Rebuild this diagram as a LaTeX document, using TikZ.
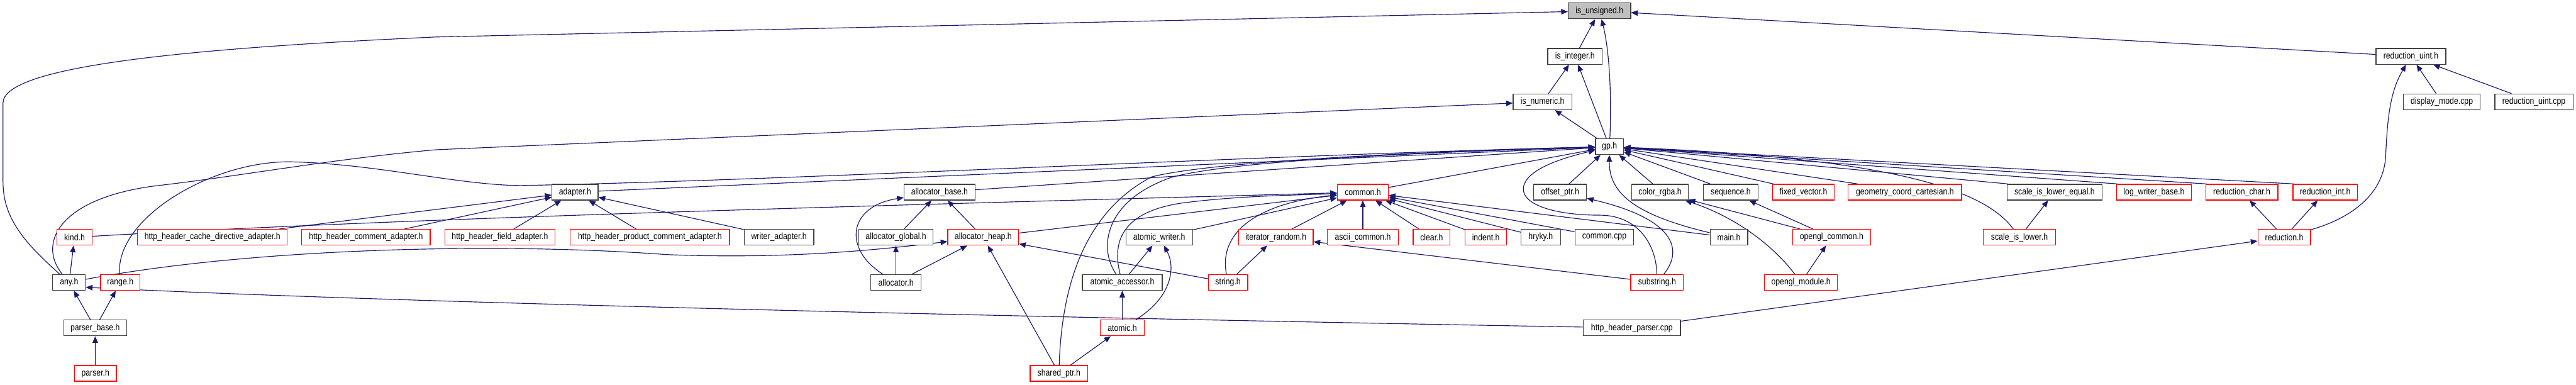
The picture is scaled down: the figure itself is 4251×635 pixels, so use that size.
\documentclass[tikz,border=0pt]{standalone}
\usepackage{fontspec}
\setmainfont{Liberation Sans}[FakeStretch=0.85]
\usetikzlibrary{arrows.meta,calc}
\definecolor{edgeblue}{RGB}{25,25,112}
\definecolor{boxgray}{RGB}{64,64,64}
\definecolor{boxred}{RGB}{255,0,0}
\definecolor{rootfill}{RGB}{191,191,191}
\pgfdeclarelayer{back}
\pgfdeclarelayer{edges}
\pgfsetlayers{back,edges,main}
\tikzset{
  fbox/.style={draw, rectangle, fill=white, text=black, line width=1.3pt, minimum height=26pt, inner sep=0pt, font=\fontsize{15pt}{18pt}\selectfont},
  blk/.style={fbox, draw=boxgray},
  rd/.style={fbox, draw=boxred},
  root/.style={fbox, draw=boxgray, fill=rootfill},
  edg/.style={draw=edgeblue, line width=1.2pt, -{Triangle[length=11pt,width=9pt]}}
}
\begin{document}
\begin{tikzpicture}[x=1pt,y=-1pt]
\begin{pgfonlayer}{back}
\fill[white] (0,0) rectangle (4251,635);
\end{pgfonlayer}
\useasboundingbox (0,0) rectangle (4251,635);
% row 0
\node[root, minimum width=103pt] (isuns) at (2639.5,18) {is\_unsigned.h};
% row 1
\node[blk, minimum width=90pt] (isint) at (2599,93) {is\_integer.h};
\node[blk, minimum width=115pt] (reduint) at (3978.5,93) {reduction\_uint.h};
% row 2
\node[blk, minimum width=97pt] (isnum) at (2545.5,168) {is\_numeric.h};
\node[blk, minimum width=127pt] (dispmode) at (4029.5,168) {display\_mode.cpp};
\node[blk, minimum width=129pt] (reduintcpp) at (4181.5,168) {reduction\_uint.cpp};
% row 3
\node[blk, minimum width=46pt] (gp) at (2656,242) {gp.h};
% row 4
\node[blk, minimum width=76pt] (adapter) at (949,317) {adapter.h};
\node[blk, minimum width=117pt] (allocbase) at (1550.5,317) {allocator\_base.h};
\node[rd, minimum width=84pt] (common) at (2249,317) {common.h};
\node[blk, minimum width=87pt] (offsetptr) at (2574.5,317) {offset\_ptr.h};
\node[blk, minimum width=93pt] (colorrgba) at (2739.5,317) {color\_rgba.h};
\node[blk, minimum width=90pt] (sequence) at (2856,317) {sequence.h};
\node[rd, minimum width=102pt] (fixedvec) at (2976,317) {fixed\_vector.h};
\node[rd, minimum width=187pt] (geom) at (3143.5,317) {geometry\_coord\_cartesian.h};
\node[blk, minimum width=157pt] (sile) at (3390.5,317) {scale\_is\_lower\_equal.h};
\node[rd, minimum width=123pt] (logwb) at (3554.5,317) {log\_writer\_base.h};
\node[rd, minimum width=119pt] (redchar) at (3699.5,317) {reduction\_char.h};
\node[rd, minimum width=106pt] (redint) at (3837,317) {reduction\_int.h};
% row 5
\node[rd, minimum width=58pt] (kind) at (123,391.5) {kind.h};
\node[rd, minimum width=247pt] (hhcda) at (350.5,391.5) {http\_header\_cache\_directive\_adapter.h};
\node[rd, minimum width=212pt] (hhca) at (604,391.5) {http\_header\_comment\_adapter.h};
\node[rd, minimum width=182pt] (hhfa) at (825,391.5) {http\_header\_field\_adapter.h};
\node[rd, minimum width=263pt] (hhpca) at (1072.5,391.5) {http\_header\_product\_comment\_adapter.h};
\node[blk, minimum width=115pt] (writerad) at (1285.5,391.5) {writer\_adapter.h};
\node[blk, minimum width=123pt] (allocglobal) at (1478.5,391.5) {allocator\_global.h};
\node[rd, minimum width=117pt] (allocheap) at (1622.5,391.5) {allocator\_heap.h};
\node[blk, minimum width=110pt] (atomwriter) at (1913,391.5) {atomic\_writer.h};
\node[rd, minimum width=123pt] (iterrand) at (2105.5,391.5) {iterator\_random.h};
\node[rd, minimum width=118pt] (ascii) at (2249,391.5) {ascii\_common.h};
\node[rd, minimum width=61pt] (clearh) at (2362.5,391.5) {clear.h};
\node[rd, minimum width=68pt] (indenth) at (2452,391.5) {indent.h};
\node[blk, minimum width=65pt] (hryky) at (2542.5,391.5) {hryky.h};
\node[blk, minimum width=97pt] (commoncpp) at (2647.5,391.5) {common.cpp};
\node[blk, minimum width=62pt] (mainh) at (2853,391.5) {main.h};
\node[rd, minimum width=129pt] (oglcommon) at (3022.5,391.5) {opengl\_common.h};
\node[rd, minimum width=119pt] (sil) at (3332.5,391.5) {scale\_is\_lower.h};
\node[rd, minimum width=87pt] (reduction) at (3769.5,391.5) {reduction.h};
% row 6
\node[blk, minimum width=54pt] (anyh) at (114,466) {any.h};
\node[rd, minimum width=65pt] (rangeh) at (198.5,466) {range.h};
\node[blk, minimum width=83pt] (allocator) at (1478.5,466) {allocator.h};
\node[blk, minimum width=132pt] (atomacc) at (1852,466) {atomic\_accessor.h};
\node[rd, minimum width=65pt] (stringh) at (2026.5,466) {string.h};
\node[rd, minimum width=87pt] (substring) at (2734.5,466) {substring.h};
\node[rd, minimum width=120pt] (oglmodule) at (2972,466) {opengl\_module.h};
% row 7
\node[blk, minimum width=104pt] (parserbase) at (157,541) {parser\_base.h};
\node[rd, minimum width=72pt] (atomich) at (1852,541) {atomic.h};
\node[blk, minimum width=160pt] (hhparser) at (2693,541) {http\_header\_parser.cpp};
% row 8
\node[rd, minimum width=69pt] (parserh) at (157.5,616) {parser.h};
\node[rd, minimum width=95pt] (sharedptr) at (1747.5,616) {shared\_ptr.h};

\begin{pgfonlayer}{edges}
% ---- edges (includer -> included) ----
\draw[edg] (isint) -- (isuns);
\draw[edg] (gp) .. controls (2660,150) and (2655,80) .. (isuns);
\draw[edg] (anyh) .. controls (40,400) and (5,360) .. (5,300) -- (5,170) .. controls (5,110) and (300,80) .. (720,61) -- (isuns);
\draw[edg] (reduint) -- (isuns);
\draw[edg] (isnum) -- (isint);
\draw[edg] (gp) -- (isint);
\draw[edg] (gp) -- (isnum);
\draw[edg] (anyh) .. controls (60,400) and (100,325) .. (262,306) .. controls (400,290) and (550,262) .. (720,247) -- (isnum);
\draw[edg] (rangeh) .. controls (190,360) and (350,265) .. (480,267) .. controls (620,270) and (760,306) .. (860,306) .. controls (1300,298) and (2100,255) .. (gp);
\draw[edg] (adapter) -- (gp);
\draw[edg] (allocbase) -- (gp);
\draw[edg] (common) -- (gp);
\draw[edg] (sharedptr) .. controls (1752,470) and (1790,350) .. (1900,292) .. controls (2000,265) and (2400,248) .. (gp);
\draw[edg] ($(atomacc.north)+(-10,0)$) .. controls (1812,410) and (1822,330) .. (1935,292) .. controls (2050,262) and (2400,250) .. (gp);
\draw[edg] (substring) .. controls (2733,400) and (2700,355) .. (2640,355) .. controls (2560,355) and (2505,335) .. (2515,305) .. controls (2525,275) and (2590,258) .. (gp);
\draw[edg] (offsetptr) -- (gp);
\draw[edg] ($(colorrgba.north)+(-12,0)$) -- (gp);
\draw[edg] ($(sequence.north west)+(12,0)$) -- (gp);
\draw[edg] ($(fixedvec.north west)+(2,0)$) -- (gp);
\draw[edg] ($(geom.north west)+(16,0)$) -- (gp);
\draw[edg] ($(sile.north west)+(2,0)$) -- (gp);
\draw[edg] ($(logwb.north west)+(2,0)$) -- (gp);
\draw[edg] ($(redchar.north west)+(2,0)$) -- (gp);
\draw[edg] ($(redint.north west)+(2,0)$) -- (gp);
\draw[edg] (mainh) .. controls (2700,355) and (2655,320) .. (gp);
\draw[edg] (sil) .. controls (3280,320) and (3150,262) .. (gp);
% adapter
\draw[edg] (hhcda) -- (adapter);
\draw[edg] (hhca) -- (adapter);
\draw[edg] (hhfa) -- (adapter);
\draw[edg] (hhpca) -- (adapter);
\draw[edg] (writerad) -- (adapter);
% common
\draw[edg] (kind) .. controls (700,358) and (1500,338) .. (common);
\draw[edg] (atomacc) .. controls (1835,400) and (1850,350) .. (1950,335) .. controls (2050,322) and (2150,322) .. (common);
\draw[edg] (allocheap) -- (common);
\draw[edg] (atomwriter) -- (common);
\draw[edg] (stringh) .. controls (2010,380) and (2080,335) .. (common);
\draw[edg] (iterrand) -- (common);
\draw[edg] (ascii) -- (common);
\draw[edg] (clearh) -- (common);
\draw[edg] (indenth) -- (common);
\draw[edg] (hryky) -- (common);
\draw[edg] (commoncpp) -- (common);
\draw[edg] (mainh) -- (common);
% iterator_random
\draw[edg] (substring) -- (iterrand);
\draw[edg] (stringh) -- (iterrand);
% allocators
\draw[edg] (stringh) -- (allocheap);
\draw[edg] (allocglobal) -- (allocbase);
\draw[edg] (allocheap) -- (allocbase);
\draw[edg] (allocator) -- (allocglobal);
\draw[edg] (allocator) -- (allocheap);
\draw[edg] (allocator) .. controls (1390,410) and (1400,340) .. (allocbase);
\draw[edg] (sharedptr) -- (allocheap);
\draw[edg] (anyh) .. controls (400,412) and (800,398) .. (1100,420) .. controls (1300,428) and (1450,412) .. (allocheap);
% atomic
\draw[edg] (sharedptr) -- (atomich);
\draw[edg] (atomich) -- (atomacc);
\draw[edg] (atomich) .. controls (1935,490) and (1940,440) .. (atomwriter);
\draw[edg] (atomacc) -- (atomwriter);
% offset / color / sequence
\draw[edg] (substring) .. controls (2780,410) and (2760,360) .. (offsetptr);
\draw[edg] (oglcommon) -- (colorrgba);
\draw[edg] (oglmodule) .. controls (2930,410) and (2870,360) .. (colorrgba);
\draw[edg] (oglcommon) -- (sequence);
\draw[edg] (oglmodule) -- (oglcommon);
\draw[edg] (sil) -- (sile);
% reduction
\draw[edg] (reduction) -- (redchar);
\draw[edg] (reduction) -- (redint);
\draw[edg] (reduction) .. controls (3880,360) and (3935,320) .. (3937,255) .. controls (3940,190) and (3945,150) .. (reduint);
\draw[edg] (hhparser) -- (reduction);
\draw[edg] (dispmode) -- (reduint);
\draw[edg] (reduintcpp) -- (reduint);
% any / parser
\draw[edg] (anyh) -- (kind);
\draw[edg] (hhparser) .. controls (1900,527) and (700,502) .. ($(anyh.east)+(0,8)$);
\draw[edg] (parserbase) -- (anyh);
\draw[edg] (parserbase) -- (rangeh);
\draw[edg] (parserh) -- (parserbase);
\end{pgfonlayer}
\end{tikzpicture}
\end{document}
